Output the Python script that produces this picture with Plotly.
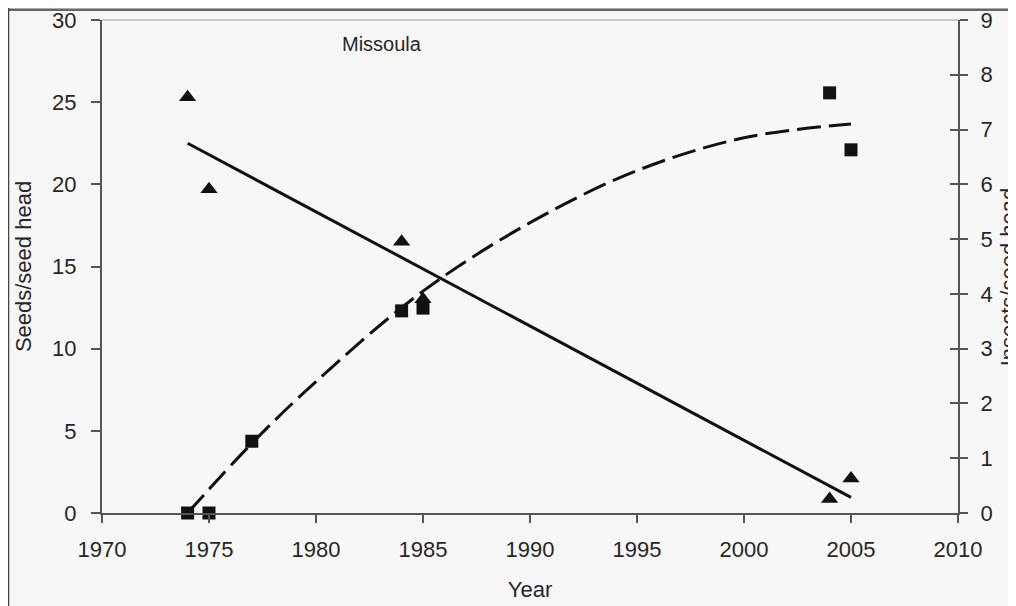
import plotly.graph_objects as go

# Data
seed_years = [1974, 1975, 1984, 1985, 2004, 2005]
seeds = [25.3, 19.7, 16.5, 13.0, 0.85, 2.1]

insect_years = [1974, 1975, 1977, 1984, 1985, 2004, 2005]
insects = [0.0, 0.0, 1.31, 3.69, 3.74, 7.67, 6.63]

seed_fit_years = [1974, 2005]
seed_fit = [22.5, 0.95]

insect_fit_years = [1974, 1977, 1980, 1985, 1990, 1995, 2000, 2005]
insect_fit = [0.0, 1.27, 2.4, 4.05, 5.3, 6.25, 6.85, 7.1]

x_ticks = [1970, 1975, 1980, 1985, 1990, 1995, 2000, 2005, 2010]
left_ticks = [0, 5, 10, 15, 20, 25, 30]
right_ticks = [0, 1, 2, 3, 4, 5, 6, 7, 8, 9]

FONT = "Liberation Sans, Arial, sans-serif"
TXT = "#262626"
AX = "#555555"
BG = "#f7f7f7"
FS = 22

fig = go.Figure()

fig.add_trace(go.Scatter(x=seed_fit_years, y=seed_fit, mode="lines",
                         line=dict(color="#111111", width=3), yaxis="y",
                         showlegend=False, hoverinfo="skip"))
fig.add_trace(go.Scatter(x=insect_fit_years, y=insect_fit, mode="lines",
                         line=dict(color="#111111", width=3, dash="24px,8px",
                                   shape="spline"),
                         yaxis="y2", showlegend=False, hoverinfo="skip"))
fig.add_trace(go.Scatter(x=seed_years, y=seeds, mode="markers",
                         marker=dict(symbol="triangle-up", size=15, color="#111111"),
                         yaxis="y", showlegend=False, cliponaxis=False))
fig.add_trace(go.Scatter(x=insect_years, y=insects, mode="markers",
                         marker=dict(symbol="square", size=13, color="#111111"),
                         yaxis="y2", showlegend=False, cliponaxis=False))
# dummy trace to activate the tick overlay axis
fig.add_trace(go.Scatter(x=[None], y=[None], yaxis="y3", showlegend=False,
                         hoverinfo="skip"))

fig.update_layout(
    width=1016, height=606,
    margin=dict(l=94, r=66, t=12, b=101, autoexpand=False),
    paper_bgcolor=BG, plot_bgcolor=BG,
    font=dict(family=FONT, size=FS, color=TXT),
    xaxis=dict(range=[1970, 2010], tickvals=x_ticks, showgrid=False, zeroline=False,
               automargin=False, ticklabeloverflow="allow",
               showline=True, linecolor=AX, linewidth=2,
               ticks="outside", ticklen=8, tickwidth=1.5, tickcolor=AX,
               ticklabelstandoff=8,
               tickfont=dict(size=FS, color=TXT),
               title=dict(text="Year", font=dict(size=FS, color=TXT), standoff=20)),
    yaxis=dict(range=[0, 30], tickvals=left_ticks, showgrid=False, zeroline=False,
               automargin=False, ticklabeloverflow="allow",
               showline=True, linecolor=AX, linewidth=2,
               ticks="outside", ticklen=9, tickwidth=1.5, tickcolor=AX,
               ticklabelstandoff=10,
               tickfont=dict(size=FS, color=TXT),
               title=dict(text="Seeds/seed head", font=dict(size=FS, color=TXT),
                          standoff=14)),
    yaxis2=dict(range=[0, 9], tickvals=right_ticks, overlaying="y", side="right",
                anchor="x", showgrid=False, zeroline=False, automargin=False,
                ticklabeloverflow="allow",
                showline=True, linecolor=AX, linewidth=2,
                ticks="outside", ticklen=8, tickwidth=1.5, tickcolor=AX,
                ticklabelstandoff=8,
                tickfont=dict(size=FS, color=TXT)),
    yaxis3=dict(range=[0, 9], tickvals=right_ticks, overlaying="y", side="right",
                anchor="x", showgrid=False, zeroline=False, showline=False,
                automargin=False,
                ticks="inside", ticklen=8, tickwidth=1.5, tickcolor=AX,
                showticklabels=False),
    annotations=[
        dict(text="Missoula", xref="paper", yref="paper", x=0.327, y=0.952,
             xanchor="center", yanchor="middle", showarrow=False,
             font=dict(size=20, color=TXT)),
        dict(text="Insects/seed head", xref="paper", yref="paper", x=1.0584, y=0.48,
             xanchor="center", yanchor="middle", textangle=-90, showarrow=False,
             font=dict(size=FS, color=TXT)),
    ],
    shapes=[
        dict(type="line", xref="paper", yref="paper", x0=0, x1=1, y0=1, y1=1,
             line=dict(color="#bbbbbb", width=1.5)),
        dict(type="line", xref="paper", yref="paper", x0=-0.11, x1=1.1,
             y0=1.021, y1=1.021, line=dict(color="#666666", width=2.5)),
        dict(type="line", xref="paper", yref="paper", x0=-0.1092, x1=-0.1092,
             y0=-0.2, y1=1.03, line=dict(color="#444444", width=1.5)),
    ],
)

fig.write_html("out.html")
